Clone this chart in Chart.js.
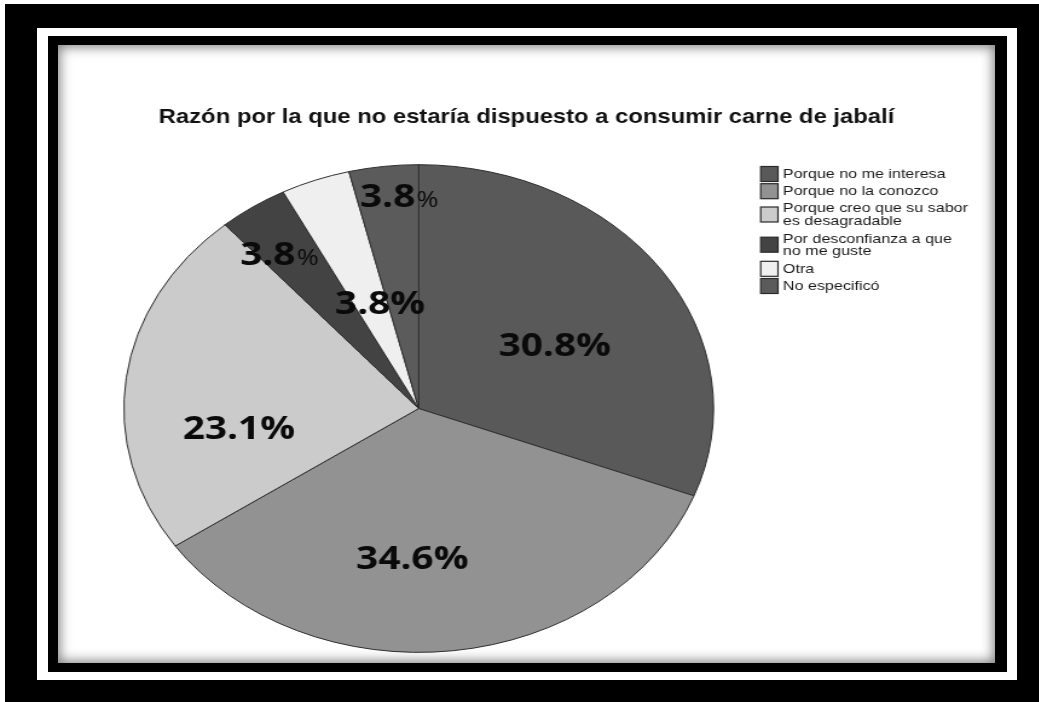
<!DOCTYPE html>
<html><head><meta charset="utf-8">
<script src="https://cdn.jsdelivr.net/npm/chart.js@4.4.0/dist/chart.umd.min.js"></script>
<style>
html,body{margin:0;padding:0;background:#fff;width:1039px;height:702px;overflow:hidden;}
#outer{position:absolute;left:5px;top:4px;width:1034px;height:698px;background:#000;}
#band{position:absolute;left:37px;top:28px;width:980px;height:652px;background:#fff;}
#inner{position:absolute;left:48px;top:36px;width:959px;height:636px;background:#000;}
#area{position:absolute;left:58px;top:45px;width:937px;height:618px;background:#fff;box-shadow:inset 0 0 12px 2px rgba(0,0,0,0.5);}
#wrap{position:absolute;left:58px;top:45px;width:775px;height:618px;transform:scaleX(1.20903);transform-origin:0 0;}
</style></head>
<body>
<div id="outer"></div><div id="band"></div><div id="inner"></div><div id="area"></div>
<div id="wrap"><canvas id="c" width="775" height="618"></canvas></div>
<script>
// ---- data ----
const titleText = 'Razón por la que no estaría dispuesto a consumir carne de jabalí';
const categories = [
  ['Porque no me interesa'],
  ['Porque no la conozco'],
  ['Porque creo que su sabor', 'es desagradable'],
  ['Por desconfianza a que', 'no me guste'],
  ['Otra'],
  ['No especificó']
];
const percentages = [30.8, 34.6, 23.1, 3.8, 3.8, 3.8];

// ---- style ----
const sliceColors = ['#595959', '#929292', '#cbcbcb', '#434343', '#efefef', '#5b5b5b'];
const labelRadius = [0.531, 0.613, 0.615, 0.792, 0.455, 0.875];
const labelShiftDeg = [4.9, 8.7, -14.5, -2.4, 3.8, 2.5];
const smallPercent = [false, false, false, true, false, true];

const labelFont = "'Open Sans', 'DejaVu Sans', sans-serif";
const textFont = "'Liberation Sans', Arial, sans-serif";

const sliceLabels = {
  id: 'sliceLabels',
  afterDatasetsDraw(chart) {
    const ctx = chart.ctx;
    const meta = chart.getDatasetMeta(0);
    const vals = chart.data.datasets[0].data;
    ctx.save();
    ctx.fillStyle = '#0a0a0a';
    ctx.textBaseline = 'alphabetic';
    meta.data.forEach((arc, i) => {
      const p = arc.getProps(['x', 'y', 'startAngle', 'endAngle', 'outerRadius'], true);
      const a = (p.startAngle + p.endAngle) / 2 + labelShiftDeg[i] * Math.PI / 180;
      const r = p.outerRadius * labelRadius[i];
      const cx = p.x + Math.cos(a) * r;
      const cy = p.y + Math.sin(a) * r;
      const size = 32;
      const base = cy + 0.357 * size;
      const num = vals[i].toFixed(1);
      if (smallPercent[i]) {
        ctx.font = `bold ${size}px ${labelFont}`;
        const w1 = ctx.measureText(num).width;
        ctx.font = `normal 22px ${labelFont}`;
        const w2 = ctx.measureText('%').width;
        const x0 = cx - (w1 + w2 + 1) / 2;
        ctx.textAlign = 'left';
        ctx.font = `bold ${size}px ${labelFont}`;
        ctx.fillText(num, x0, base);
        ctx.font = `normal 22px ${labelFont}`;
        ctx.fillText('%', x0 + w1 + 1, base);
      } else {
        ctx.textAlign = 'center';
        ctx.font = `bold ${size}px ${labelFont}`;
        ctx.fillText(num + '%', cx, base);
      }
    });
    ctx.restore();
  }
};

// legend occupies a layout box on the right, drawn after the chart
const sideLegend = {
  id: 'sideLegend',
  beforeInit(chart) {
    const box = {
      position: 'right', weight: 1000, fullSize: false,
      options: {},
      left: 0, top: 0, right: 0, bottom: 0, width: 0, height: 0,
      isHorizontal() { return false; },
      update(maxWidth, maxHeight) { this.width = 178.3; this.height = maxHeight; },
      draw() {}
    };
    Chart.layouts.addBox(chart, box);
  },
  afterDraw(chart) {
    const ctx = chart.ctx;
    const labels = chart.data.labels;
    const colors = chart.data.datasets[0].backgroundColor;
    const boxX = 581.2, boxW = 14.3, boxH = 15, textX = 599.6;
    const lineH = 12.2;
    let baseline = 133;
    ctx.save();
    ctx.font = `normal 13.3px ${textFont}`;
    ctx.textAlign = 'left';
    ctx.textBaseline = 'alphabetic';
    labels.forEach((lines, i) => {
      const n = lines.length;
      const meanBase = baseline + (n - 1) * lineH / 2;
      const boxC = meanBase - 4;
      ctx.fillStyle = colors[i];
      ctx.fillRect(boxX, boxC - boxH / 2, boxW, boxH);
      ctx.strokeStyle = '#2a2a2a';
      ctx.lineWidth = 1.2;
      ctx.strokeRect(boxX, boxC - boxH / 2, boxW, boxH);
      ctx.fillStyle = '#1a1a1a';
      lines.forEach((t, k) => ctx.fillText(t, textX, baseline + k * lineH));
      baseline += 17.2 + (n - 1) * 13;
    });
    ctx.restore();
  }
};

new Chart(document.getElementById('c'), {
  type: 'pie',
  data: {
    labels: categories,
    datasets: [{
      data: percentages,
      backgroundColor: sliceColors,
      borderColor: '#2e2e2e',
      borderWidth: 1
    }]
  },
  options: {
    responsive: false,
    maintainAspectRatio: false,
    animation: false,
    layout: { padding: { left: 54, right: 54, top: 0, bottom: 10 } },
    plugins: {
      legend: { display: false },
      tooltip: { enabled: false },
      title: {
        display: true,
        text: titleText,
        color: '#111',
        font: { family: textFont, size: 19.7, weight: 'bold' },
        padding: { top: 61.1, bottom: 34.3 }
      }
    }
  },
  plugins: [sliceLabels, sideLegend]
});
</script>
</body></html>
